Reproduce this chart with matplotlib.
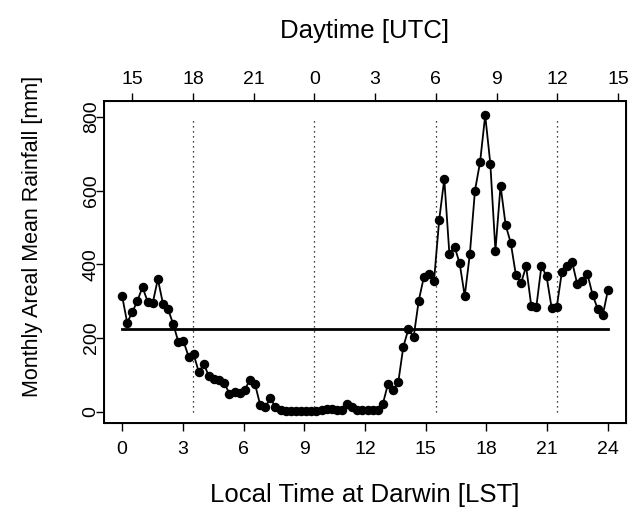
import numpy as np
import matplotlib
matplotlib.use("Agg")
import matplotlib.pyplot as plt

plt.rcParams['font.family'] = ['Liberation Sans', 'DejaVu Sans']

# 15-min areal mean rainfall over the day (local time)
rain = [315, 242, 270, 301, 338, 299, 295, 360, 293, 278,
        238, 190, 192, 150, 156, 108, 129, 96, 90, 85,
        78, 49, 55, 52, 60, 87, 75, 19, 13, 37,
        12, 5, 3, 2, 2, 2, 3, 2, 3, 4,
        8, 7, 6, 5, 22, 13, 5, 4, 4, 4,
        4, 22, 76, 60, 80, 177, 225, 202, 301, 365,
        374, 356, 520, 631, 428, 448, 403, 314, 428, 600,
        677, 804, 673, 437, 613, 506, 458, 371, 349, 394,
        288, 285, 396, 367, 281, 285, 380, 396, 406, 346,
        356, 373, 317, 279, 263, 330]
lst = np.linspace(0, 24, len(rain))
mean_rain = 225

lst_ticks = [0, 3, 6, 9, 12, 15, 18, 21, 24]
utc_pos = [0.5, 3.5, 6.5, 9.5, 12.5, 15.5, 18.5, 21.5, 24.5]
utc_labels = ['15', '18', '21', '0', '3', '6', '9', '12', '15']
day_lines = [3.5, 9.5, 15.5, 21.5]
y_ticks = [0, 200, 400, 600, 800]

fig = plt.figure(figsize=(6.37, 5.12), dpi=100)
ax = fig.add_axes([0.163, 0.174, 0.820, 0.629])

for x in day_lines:
    ax.plot([x, x], [0, 800], color='black', linestyle=(0, (1, 3)), linewidth=0.9)
ax.plot([0, 24], [mean_rain, mean_rain], color='black', linewidth=2.0)
ax.plot(lst, rain, color='black', linewidth=1.3, marker='o', markersize=5.8)

ax.set_xlim(-0.9, 24.9)
ax.set_ylim(-30, 843)
ax.set_xticks(lst_ticks)
ax.set_yticks(y_ticks)
ax.set_yticklabels([str(v) for v in y_ticks], rotation=90, va='center')
ax.tick_params(labelsize=14, length=6, width=1, direction='out')
ax.tick_params(axis='x', pad=7)
ax.tick_params(axis='y', pad=-3)
for s in ax.spines.values():
    s.set_linewidth(1.4)

ax.set_xlabel('Local Time at Darwin [LST]', fontsize=18.5, labelpad=18)
ax.set_ylabel('Monthly Areal Mean Rainfall [mm]', fontsize=15.5)
ax.yaxis.set_label_coords(-0.116, 0.58)

top = ax.twiny()
top.set_xlim(ax.get_xlim())
top.set_xticks(utc_pos)
top.set_xticklabels(utc_labels)
top.tick_params(labelsize=14, length=6, width=1, direction='out', pad=3)
top.set_xlabel('Daytime [UTC]', fontsize=18.5, labelpad=24)

fig.savefig('out.png', dpi=100)
